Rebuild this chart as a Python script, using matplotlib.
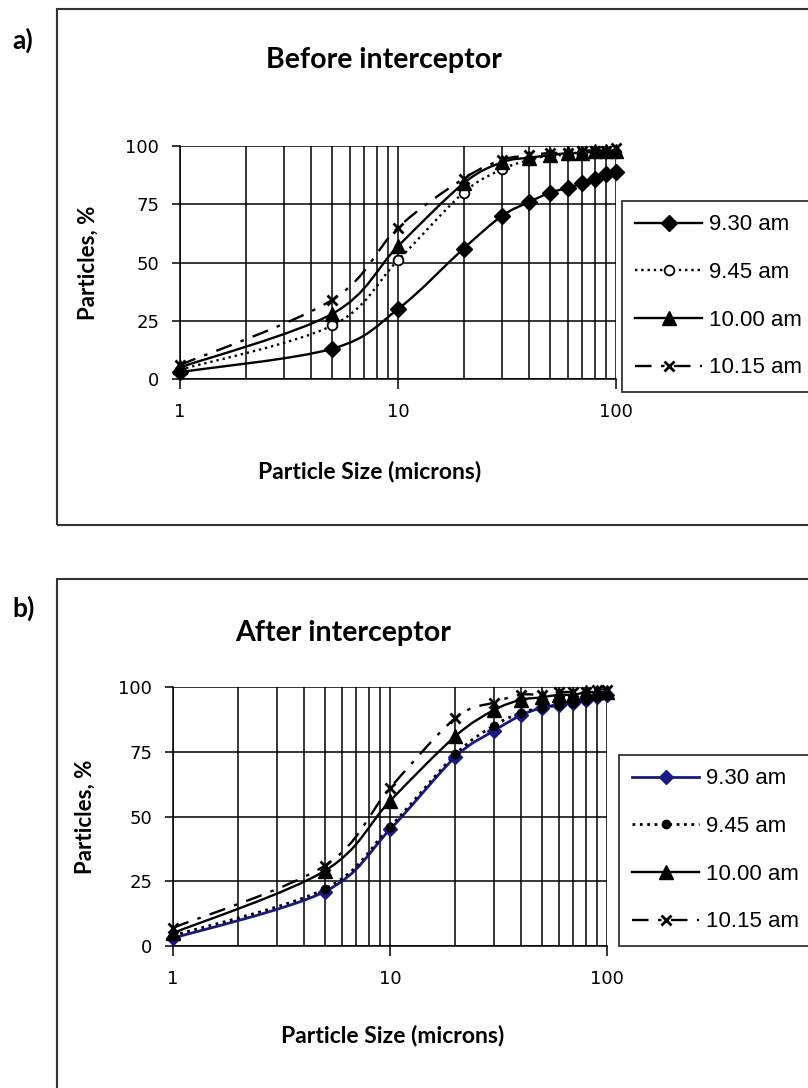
import numpy as np
import matplotlib
matplotlib.use("Agg")
import matplotlib.pyplot as plt
from matplotlib.path import Path
from matplotlib.patches import PathPatch, Rectangle
from matplotlib.lines import Line2D

# particle sizes (microns)
sizes = [1, 5, 10, 20, 30, 40, 50, 60, 70, 80, 90, 100]
times = ["9.30 am", "9.45 am", "10.00 am", "10.15 am"]

# a) before interceptor, cumulative %
before_930 = [3, 13, 30, 56, 70, 76, 80, 82, 84, 86, 88, 89]
before_945 = [4, 23, 51, 80, 90, 94, 96, 96, 97, 97, 97, 97]
before_1000 = [5, 28, 57, 84, 93, 95, 96, 97, 97, 98, 98, 98]
before_1015 = [6, 34, 65, 86, 94, 96, 97, 97, 98, 98, 98, 99]

# b) after interceptor, cumulative %
after_930 = [3, 21, 45, 73, 83, 89, 92, 93, 94, 95, 96, 97]
after_945 = [4, 22, 46, 74, 85, 90, 92, 93, 94, 95, 96, 97]
after_1000 = [5, 29, 56, 81, 91, 95, 96, 97, 97, 98, 98, 98]
after_1015 = [7, 31, 61, 88, 94, 97, 97, 98, 98, 98, 99, 99]


def smooth_path(x, y):
    # excel-like smoothed line, built in log10(x) space
    lx = np.log10(x)
    y = np.asarray(y, dtype=float)
    n = len(lx)
    verts = [(lx[0], y[0])]
    codes = [Path.MOVETO]
    for i in range(n - 1):
        p0 = (lx[max(i - 1, 0)], y[max(i - 1, 0)])
        p1 = (lx[i], y[i])
        p2 = (lx[i + 1], y[i + 1])
        p3 = (lx[min(i + 2, n - 1)], y[min(i + 2, n - 1)])
        c1 = (p1[0] + (p2[0] - p0[0]) / 6, p1[1] + (p2[1] - p0[1]) / 6)
        c2 = (p2[0] - (p3[0] - p1[0]) / 6, p2[1] - (p3[1] - p1[1]) / 6)
        verts += [c1, c2, p2]
        codes += [Path.CURVE4] * 3
    verts = [(10 ** vx, vy) for vx, vy in verts]
    return Path(verts, codes)


plt.rcParams['font.family'] = ['DejaVu Sans']
fig = plt.figure(figsize=(8.08, 10.88), dpi=100)

dash1015 = (0, (7, 4, 1.5, 4))


def panel(rect, series, styles, title, tag, box, title_xy, xlabel_xy, ylabel_x, leg_xy):
    # outer frame of the chart area
    fig.patches.append(Rectangle((box[0] / 808, 1 - box[3] / 1088),
                                 (box[2] - box[0]) / 808, (box[3] - box[1]) / 1088,
                                 transform=fig.transFigure, fill=False,
                                 edgecolor='#333333', lw=1.5))
    fig.text(12 / 808, 1 - tag[1] / 1088, tag[0], fontsize=19, fontweight='bold',
             family='Lato', va='center', ha='left')
    fig.text(title_xy[0] / 808, 1 - title_xy[1] / 1088, title, fontsize=20.5,
             fontweight='bold', family='Lato', ha='center', va='center')

    ax = fig.add_axes(rect)
    ax.set_xscale('log')
    ax.set_xlim(1, 100)
    ax.set_ylim(0, 100)
    handles = []
    for (yv, st) in zip(series, styles):
        ax.add_patch(PathPatch(smooth_path(sizes, yv), fill=False,
                               edgecolor=st['color'], lw=st['lw'],
                               linestyle=st['ls'], zorder=3))
        ax.plot(sizes, yv, ls='none', marker=st['marker'], ms=st['ms'],
                mfc=st['mfc'], mec=st['color'], mew=st.get('mew', 1), zorder=4,
                clip_on=False)
        handles.append(Line2D([], [], color=st['color'], lw=st['lw'], ls=st['ls'],
                              marker=st['marker'], ms=st['ms'], mfc=st['mfc'],
                              mec=st['color'], mew=st.get('mew', 1)))

    ax.set_yticks([0, 25, 50, 75, 100])
    ax.set_xticks([1, 10, 100])
    ax.set_xticklabels(['1', '10', '100'])
    ax.set_xticks([2, 3, 4, 5, 6, 7, 8, 9, 20, 30, 40, 50, 60, 70, 80, 90], minor=True)
    ax.xaxis.set_minor_formatter(matplotlib.ticker.NullFormatter())
    ax.grid(True, which='both', axis='x', color='black', lw=1.1)
    ax.grid(True, which='major', axis='y', color='black', lw=1.1)
    for s in ['top', 'right']:
        ax.spines[s].set_visible(False)
    for s in ['left', 'bottom']:
        ax.spines[s].set_linewidth(1.1)
    ax.tick_params(axis='x', which='major', length=7, width=1.1, pad=10, labelsize=13)
    ax.tick_params(axis='x', which='minor', length=0)
    ax.tick_params(axis='y', length=6, width=1.1, pad=9, labelsize=13)

    fig.text(xlabel_xy[0] / 808, 1 - xlabel_xy[1] / 1088, 'Particle Size (microns)',
             fontsize=16.5, fontweight='bold', family='Lato', ha='center', va='center')
    fig.text(ylabel_x / 808, rect[1] + rect[3] / 2, 'Particles, %', fontsize=16,
             fontweight='bold', family='Lato', ha='center', va='center', rotation=90)

    leg = fig.legend(handles, times, loc='upper left',
                     bbox_to_anchor=(leg_xy[0] / 808, 1 - leg_xy[1] / 1088),
                     frameon=True, fancybox=False, edgecolor='black',
                     prop={'family': 'Liberation Sans', 'size': 16},
                     handlelength=3.0, handletextpad=0.3, labelspacing=1.2,
                     borderpad=0.6, borderaxespad=0)
    leg.get_frame().set_linewidth(1.3)
    return ax


blk = 'black'
styles_a = [
    dict(color=blk, lw=1.7, ls='-', marker='D', ms=8.5, mfc=blk),
    dict(color=blk, lw=1.7, ls=':', marker='o', ms=7, mfc='white', mew=1.3),
    dict(color=blk, lw=1.7, ls='-', marker='^', ms=9.5, mfc=blk),
    dict(color=blk, lw=1.7, ls=dash1015, marker='x', ms=7, mfc=blk, mew=2),
]
styles_b = [
    dict(color='#1a1a80', lw=2, ls='-', marker='D', ms=7, mfc='#1a1a80'),
    dict(color=blk, lw=2, ls=':', marker='o', ms=6, mfc=blk),
    dict(color=blk, lw=1.7, ls='-', marker='^', ms=9.5, mfc=blk),
    dict(color=blk, lw=1.7, ls=dash1015, marker='x', ms=7, mfc=blk, mew=2),
]

panel([180 / 808, 1 - 379 / 1088, 436 / 808, 233 / 1088],
      [before_930, before_945, before_1000, before_1015], styles_a,
      'Before interceptor', ('a)', 40), (57, 9, 830, 525), (384, 60), (370, 472), 88,
      (622, 201))

panel([173 / 808, 1 - 946 / 1088, 434 / 808, 259 / 1088],
      [after_930, after_945, after_1000, after_1015], styles_b,
      'After interceptor', ('b)', 608), (57, 579, 830, 1100), (343, 633), (393, 1035), 85,
      (619, 755))

fig.savefig('out.png', dpi=100)
